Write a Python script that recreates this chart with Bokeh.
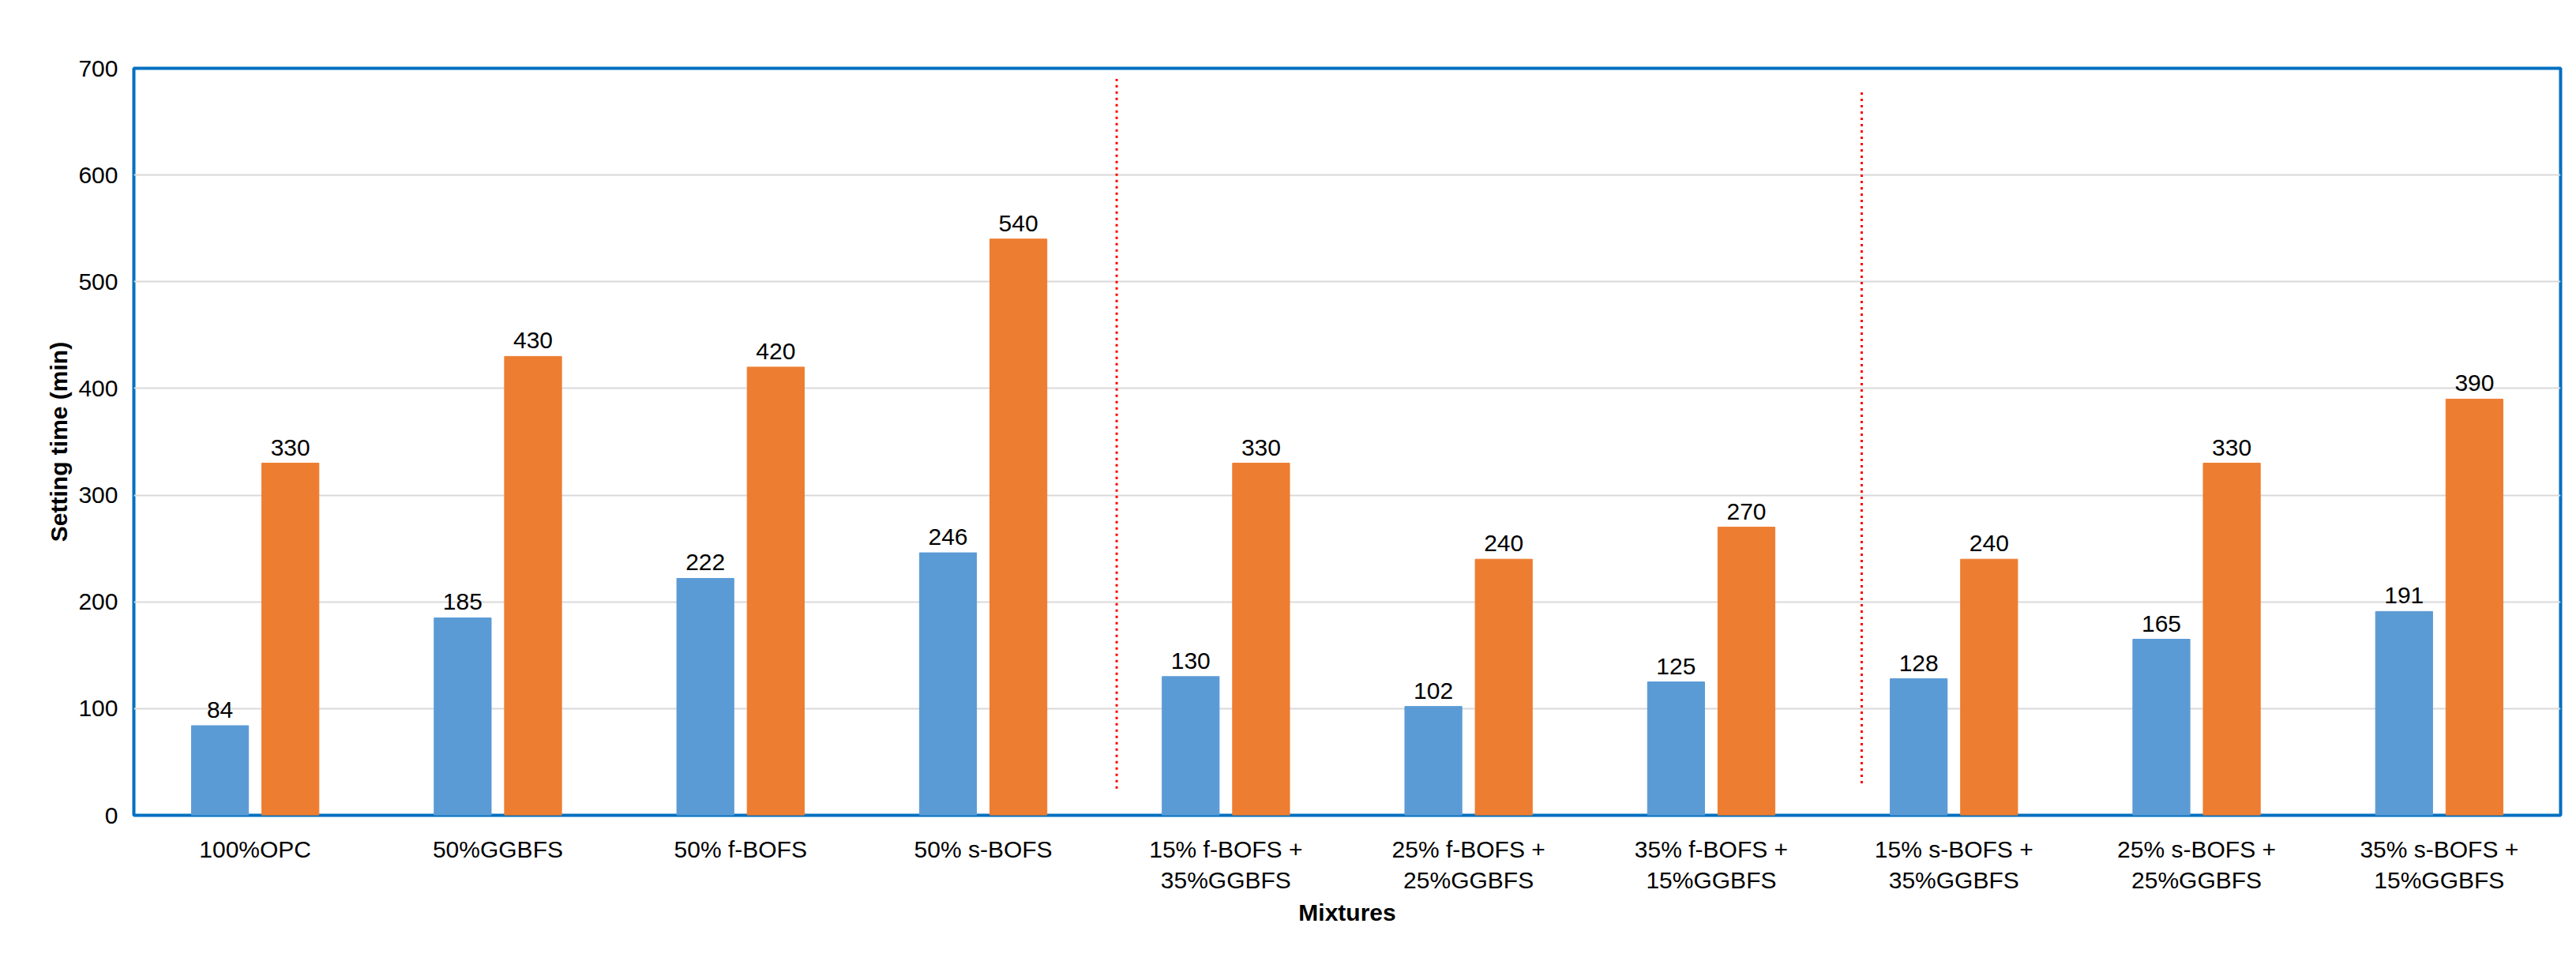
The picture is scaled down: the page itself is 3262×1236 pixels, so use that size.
from bokeh.plotting import figure
from bokeh.models import ColumnDataSource, Legend, LegendItem, FixedTicker, LabelSet, Range1d
from bokeh.core.properties import value
from bokeh.embed import file_html
from bokeh.resources import INLINE

categories = ["100%OPC", "50%GGBFS", "50% f-BOFS", "50% s-BOFS",
              "15% f-BOFS +\n35%GGBFS", "25% f-BOFS +\n25%GGBFS", "35% f-BOFS +\n15%GGBFS",
              "15% s-BOFS +\n35%GGBFS", "25% s-BOFS +\n25%GGBFS", "35% s-BOFS +\n15%GGBFS"]
initial = [84, 185, 222, 246, 130, 102, 125, 128, 165, 191]
final = [330, 430, 420, 540, 330, 240, 270, 240, 330, 390]
yticks = [0, 100, 200, 300, 400, 500, 600, 700]

F = "Liberation Sans"
xs = list(range(len(categories)))
src_i = ColumnDataSource(dict(x=[v - 0.145 for v in xs], y=initial, t=[str(v) for v in initial]))
src_f = ColumnDataSource(dict(x=[v + 0.145 for v in xs], y=final, t=[str(v) for v in final]))

p = figure(frame_width=3073, frame_height=946, min_border_left=169, min_border_right=6,
           min_border_top=86, min_border_bottom=170, output_backend="svg", toolbar_location=None,
           x_range=Range1d(-0.5, 9.5), y_range=Range1d(0, 700))
p.outline_line_color = "#0070C0"
p.outline_line_width = 4
p.xgrid.grid_line_color = None
p.ygrid.grid_line_color = "#D9D9D9"
p.ygrid.grid_line_width = 2

ri = p.vbar(x="x", top="y", width=0.235, source=src_i, color="#5B9BD5")
rf = p.vbar(x="x", top="y", width=0.235, source=src_f, color="#ED7D31")
for s in (src_i, src_f):
    p.add_layout(LabelSet(x="x", y="y", text="t", source=s, text_align="center", y_offset=10,
                          text_font=value(F), text_font_size="30px", text_color="#000000"))

for xv, y0, y1 in [(3.55, 25, 690), (6.62, 30, 680)]:
    p.segment(x0=[xv], y0=[y0], x1=[xv], y1=[y1], line_color="#FF0000", line_width=3, line_dash="3 5")

p.yaxis.ticker = FixedTicker(ticks=yticks)
p.xaxis.ticker = FixedTicker(ticks=xs)
p.xaxis.major_label_overrides = {i: c for i, c in enumerate(categories)}
for ax in (p.xaxis[0], p.yaxis[0]):
    ax.axis_line_color = None
    ax.major_tick_line_color = None
    ax.minor_tick_line_color = None
    ax.major_label_text_font = F
    ax.major_label_text_font_size = "30px"
    ax.major_label_text_color = "#000000"
    ax.axis_label_text_font = F
    ax.axis_label_text_font_size = "30px"
    ax.axis_label_text_font_style = "bold"
    ax.axis_label_text_color = "#000000"
p.xaxis.axis_label = "Mixtures"
p.yaxis.axis_label = "Setting time (min)"
p.xaxis.major_label_standoff = 20
p.yaxis.major_label_standoff = 14

leg = Legend(items=[LegendItem(label="Initial", renderers=[ri]), LegendItem(label="Final", renderers=[rf])],
             orientation="horizontal", location=(548, 946 + 40), spacing=1380, label_text_font=F,
             label_text_font_size="30px", glyph_width=22, glyph_height=22, border_line_color=None,
             background_fill_alpha=0, padding=0, margin=0)
p.add_layout(leg, "center")

open("out.html", "w").write(file_html(p, INLINE))
